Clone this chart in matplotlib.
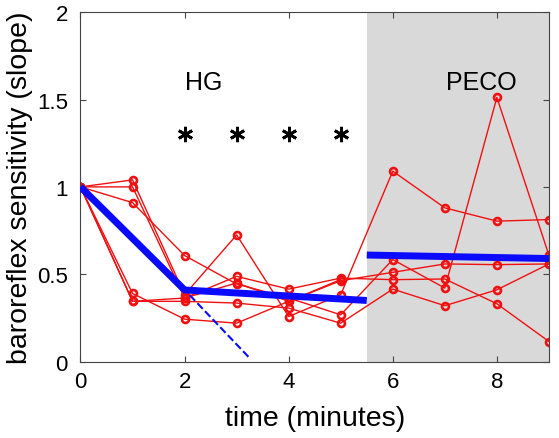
import numpy as np
import matplotlib.pyplot as plt

plt.rcParams['font.family'] = ['Liberation Sans', 'DejaVu Sans']

# ── Data ───────────────────────────────────────────────────────────────
t = np.arange(10)
subj1 = [1.00, 1.04, 0.383, 0.725, 0.258, 0.383, 1.09, 0.88, 0.804, 0.813]
subj2 = [1.00, 1.00, 0.364, 0.488, 0.415, 0.478, 0.469, 0.473, 0.331, 0.115]
subj3 = [1.00, 0.91, 0.607, 0.444, 0.364, 0.268, 0.584, 0.421, 1.512, 0.609]
subj4 = [1.00, 0.39, 0.243, 0.220, 0.345, 0.463, 0.511, 0.559, 0.555, 0.559]
subj5 = [1.00, 0.345, 0.345, 0.335, 0.306, 0.220, 0.415, 0.320, 0.411, 0.559]
subj6 = [1.00, 0.345, 0.364, 0.450, 0.345, 0.470, np.nan, np.nan, np.nan, np.nan]
subjects = [subj1, subj2, subj3, subj4, subj5, subj6]

# group fit (piecewise)
fit_hg_t = [0, 2, 5.5]
fit_hg_y = [1.0, 0.41, 0.35]
fit_peco_t = [5.5, 9]
fit_peco_y = [0.61, 0.59]
extrap_t = [2.1, 3.25]
extrap_y = [0.38, 0.02]

star_t = [2, 3, 4, 5]
star_y = [1.3, 1.3, 1.3, 1.3]

peco_start, peco_end = 5.5, 9

# ── Plot ───────────────────────────────────────────────────────────────
fig = plt.figure(figsize=(5.59, 4.39), dpi=100)
ax = fig.add_axes([0.144, 0.174, 0.838, 0.796])

ax.axvspan(peco_start, peco_end, color='#d9d9d9', lw=0, zorder=0)

for s in subjects:
    ax.plot(t, s, '-o', color='#f01010', lw=1.0, ms=5, mfc='none',
            mec='#f01010', mew=1.9, zorder=2)

ax.plot(fit_hg_t, fit_hg_y, color='#0a0aff', lw=5, solid_capstyle='butt', zorder=3)
ax.plot(fit_peco_t, fit_peco_y, color='#0a0aff', lw=5, solid_capstyle='butt', zorder=3)
ax.plot(extrap_t, extrap_y, '--', color='#0a0aff', lw=1.5, zorder=3)

ax.plot(star_t, star_y, linestyle='none', marker=(6, 2, 0), color='black',
        ms=11, mew=2, zorder=3)

ax.text(2.37, 1.6, 'HG', fontsize=18, ha='center', va='center')
ax.text(7.7, 1.6, 'PECO', fontsize=18, ha='center', va='center')

ax.set_xlim(0, 9)
ax.set_ylim(0, 2)
ax.set_xticks([0, 2, 4, 6, 8])
ax.set_yticks([0, 0.5, 1, 1.5, 2])
ax.set_yticklabels(['0', '0.5', '1', '1.5', '2'])
ax.tick_params(direction='in', top=True, right=True, labelsize=16,
               length=4, color='#444444')
ax.tick_params(axis='x', pad=7)
ax.tick_params(axis='y', pad=9)
for sp in ax.spines.values():
    sp.set_color('#444444')
ax.set_xlabel('time (minutes)', fontsize=20.5, labelpad=9)
ax.set_ylabel('baroreflex sensitivity (slope)', fontsize=20.5, labelpad=3)

fig.savefig('out.png', dpi=100)
